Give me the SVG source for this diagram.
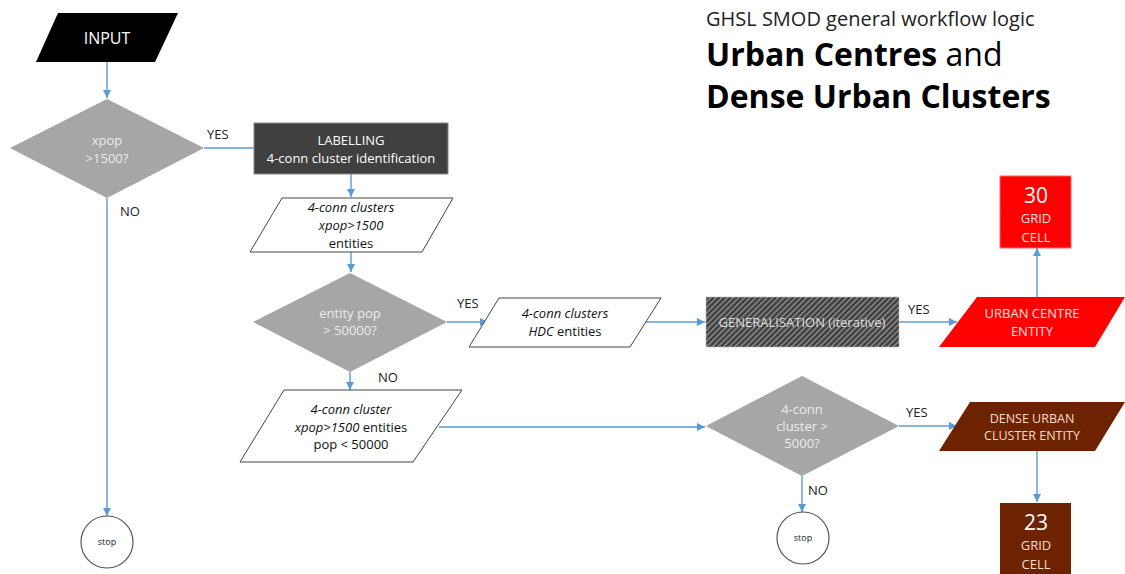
<svg xmlns="http://www.w3.org/2000/svg" width="1125" height="574" viewBox="0 0 1125 574">
<defs>
<marker id="arr" viewBox="0 0 10 10" refX="10" refY="5" markerWidth="8" markerHeight="8" markerUnits="userSpaceOnUse" orient="auto"><path d="M0,0 L10,5 L0,10 z" fill="#5b9bd5"/></marker>
<pattern id="hatch" width="4" height="4" patternUnits="userSpaceOnUse" patternTransform="rotate(45)"><rect width="4" height="4" fill="#3c3c3c"/><rect width="1.6" height="4" fill="#8a8a8a"/></pattern>
<style>
text{font-family:"Open Sans","Noto Sans",sans-serif;text-anchor:middle}
.c{fill:none;stroke:#5b9bd5;stroke-width:1.4}
.lbl{font-size:13px;fill:#222;text-anchor:start}
.dia{fill:#a6a6a6}
.dt{font-size:13px;fill:#ececec}
.wp{fill:#fff;stroke:#444;stroke-width:1}
.wt{font-size:13px;fill:#111}
.it{font-style:italic}
.stop{fill:#fff;stroke:#555;stroke-width:1.2}
.st{font-size:9px;fill:#222}
.ht{font-size:13px;fill:#fff}
.big{font-size:21px;fill:#fff}
</style>
</defs>
<g id="title">
<text x="706" y="26" style="font-size:20px;fill:#222;text-anchor:start">GHSL SMOD general workflow logic</text>
<text x="706" y="66" style="font-size:32px;fill:#000;text-anchor:start"><tspan font-weight="bold">Urban Centres</tspan> and</text>
<text x="706" y="108" style="font-size:32px;fill:#000;text-anchor:start;font-weight:bold">Dense Urban Clusters</text>
</g>
<g id="connectors">
<path class="c" d="M107,62 V98" marker-end="url(#arr)"/>
<path class="c" d="M204,148 H254"/>
<path class="c" d="M107,198 V516" marker-end="url(#arr)"/>
<path class="c" d="M351,174 V197" marker-end="url(#arr)"/>
<path class="c" d="M351,252 V272" marker-end="url(#arr)"/>
<path class="c" d="M447,322 H488" marker-end="url(#arr)"/>
<path class="c" d="M645,322 H705" marker-end="url(#arr)"/>
<path class="c" d="M899,322 H957" marker-end="url(#arr)"/>
<path class="c" d="M1037,297 V248" marker-end="url(#arr)"/>
<path class="c" d="M350,372 V390" marker-end="url(#arr)"/>
<path class="c" d="M439,427 H705" marker-end="url(#arr)"/>
<path class="c" d="M899,426 H957" marker-end="url(#arr)"/>
<path class="c" d="M1037,451 V502" marker-end="url(#arr)"/>
<path class="c" d="M802,476 V512" marker-end="url(#arr)"/>
<text class="lbl" x="207" y="139">YES</text>
<text class="lbl" x="120" y="216">NO</text>
<text class="lbl" x="457" y="308">YES</text>
<text class="lbl" x="378" y="382">NO</text>
<text class="lbl" x="908" y="314">YES</text>
<text class="lbl" x="906" y="417">YES</text>
<text class="lbl" x="808" y="495">NO</text>
</g>
<g id="input">
<polygon points="58,13 178,13 155,62 36,62" fill="#000"/>
<text x="107" y="44" style="font-size:16px;fill:#fff">INPUT</text>
</g>
<g id="d1">
<polygon class="dia" points="107,99 204,148 107,198 10,148"/>
<text class="dt" x="107" y="145">xpop</text>
<text class="dt" x="107" y="163">&gt;1500?</text>
</g>
<g id="labelling">
<rect x="254" y="123" width="194" height="51" fill="#404040" stroke="#888" stroke-width="1"/>
<text class="ht" x="351" y="145">LABELLING</text>
<text class="ht" x="351" y="163">4-conn cluster identification</text>
</g>
<g id="p2">
<polygon class="wp" points="282,198 453,198 422,252 250,252"/>
<text class="wt it" x="351" y="212">4-conn clusters</text>
<text class="wt it" x="351" y="230">xpop&gt;1500</text>
<text class="wt" x="351" y="248">entities</text>
</g>
<g id="d3">
<polygon class="dia" points="350,273 447,322 350,372 253,322"/>
<text class="dt" x="350" y="318">entity pop</text>
<text class="dt" x="350" y="335">&gt; 50000?</text>
</g>
<g id="p4">
<polygon class="wp" points="499,298 661,298 630,347 469,347"/>
<text class="wt it" x="565" y="318">4-conn clusters</text>
<text class="wt" x="565" y="336"><tspan class="it">HDC</tspan> entities</text>
</g>
<g id="gen">
<rect x="706" y="297" width="193" height="50" fill="url(#hatch)" stroke="#bbb" stroke-width="1" stroke-dasharray="2,1.5"/>
<text x="802" y="327" style="font-size:13px;fill:#ddd">GENERALISATION (iterative)</text>
</g>
<g id="uc">
<polygon points="977,297 1125,297 1095,347 939,347" fill="#ff0000"/>
<text x="1032" y="318" style="font-size:13px;fill:#ffe0e0">URBAN CENTRE</text>
<text x="1032" y="336" style="font-size:13px;fill:#ffe0e0">ENTITY</text>
</g>
<g id="uc30">
<rect x="1000" y="176" width="71" height="72" fill="#ff0000" stroke="#f66" stroke-width="1"/>
<text class="big" x="1036" y="203">30</text>
<text x="1036" y="223" style="font-size:13px;fill:#ffe0e0">GRID</text>
<text x="1036" y="242" style="font-size:13px;fill:#ffe0e0">CELL</text>
</g>
<g id="p5">
<polygon class="wp" points="284,390 462,390 413,462 240,462"/>
<text class="wt it" x="351" y="414">4-conn cluster</text>
<text class="wt" x="351" y="432"><tspan class="it">xpop&gt;1500</tspan> entities</text>
<text class="wt" x="351" y="449">pop &lt; 50000</text>
</g>
<g id="d6">
<polygon class="dia" points="802,376 899,426 802,476 706,426"/>
<text class="dt" x="802" y="414">4-conn</text>
<text class="dt" x="802" y="431">cluster &gt;</text>
<text class="dt" x="802" y="448">5000?</text>
</g>
<g id="duc">
<polygon points="970,402 1125,402 1095,451 939,451" fill="#6e2300"/>
<text x="1032" y="423" style="font-size:12.5px;fill:#f3dcd0">DENSE URBAN</text>
<text x="1032" y="440" style="font-size:12.5px;fill:#f3dcd0">CLUSTER ENTITY</text>
</g>
<g id="duc23">
<rect x="1000" y="503" width="71" height="75" fill="#6e2300"/>
<text class="big" x="1036" y="530">23</text>
<text x="1036" y="550" style="font-size:13px;fill:#f3dcd0">GRID</text>
<text x="1036" y="569" style="font-size:13px;fill:#f3dcd0">CELL</text>
</g>
<g id="stop1">
<circle class="stop" cx="107" cy="542" r="26"/>
<text class="st" x="107" y="545">stop</text>
</g>
<g id="stop2">
<circle class="stop" cx="803" cy="538" r="26"/>
<text class="st" x="803" y="541">stop</text>
</g>
</svg>
